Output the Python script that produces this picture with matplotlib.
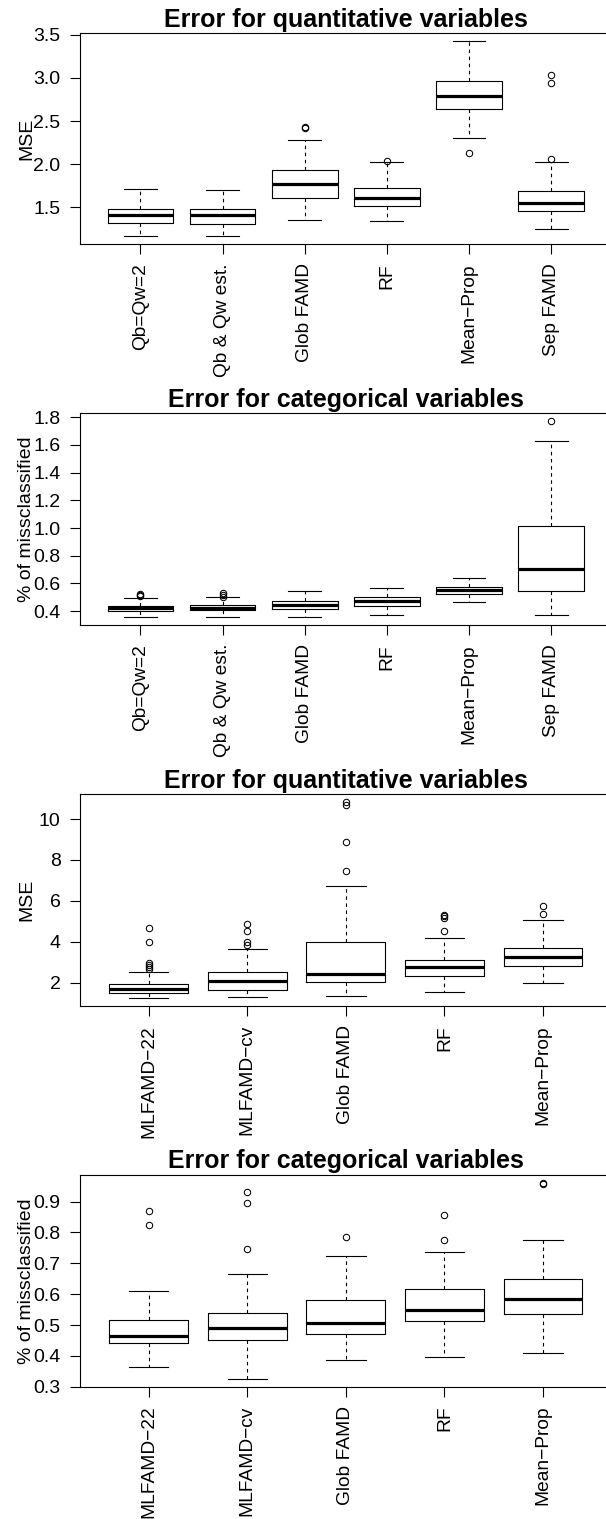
import matplotlib
matplotlib.use("Agg")
import matplotlib.pyplot as plt

plt.rcParams['font.family'] = ['Liberation Sans', 'DejaVu Sans']

# ---------------- data ----------------
cats_top = ["Qb=Qw=2", "Qb & Qw est.", "Glob FAMD", "RF", "Mean\u2212Prop", "Sep FAMD"]
cats_bot = ["MLFAMD\u221222", "MLFAMD\u2212cv", "Glob FAMD", "RF", "Mean\u2212Prop"]

# Panel 1: quantitative (MSE)
p1_whislo = [1.161, 1.161, 1.354, 1.342, 2.305, 1.250]
p1_q1 = [1.319, 1.304, 1.604, 1.515, 2.637, 1.461]
p1_med = [1.411, 1.411, 1.770, 1.612, 2.795, 1.554]
p1_q3 = [1.481, 1.477, 1.928, 1.720, 2.968, 1.693]
p1_whishi = [1.712, 1.700, 2.282, 2.020, 3.427, 2.020]
p1_fliers = [[], [], [2.429, 2.415], [2.040], [2.124], [3.030, 2.941, 2.055]]
p1_ticks = [1.5, 2.0, 2.5, 3.0, 3.5]

# Panel 2: categorical (% misclassified)
p2_whislo = [0.357, 0.357, 0.361, 0.371, 0.467, 0.373]
p2_q1 = [0.405, 0.410, 0.419, 0.436, 0.523, 0.549]
p2_med = [0.422, 0.426, 0.448, 0.470, 0.552, 0.708]
p2_q3 = [0.441, 0.446, 0.472, 0.501, 0.573, 1.013]
p2_whishi = [0.494, 0.499, 0.544, 0.564, 0.641, 1.627]
p2_fliers = [[0.527, 0.518, 0.508], [0.528, 0.515, 0.505], [], [], [], [1.771]]
p2_ticks = [0.4, 0.6, 0.8, 1.0, 1.2, 1.4, 1.6, 1.8]

# Panel 3: quantitative (MSE)
p3_whislo = [1.237, 1.302, 1.335, 1.529, 2.000]
p3_q1 = [1.497, 1.643, 2.016, 2.308, 2.795]
p3_med = [1.708, 2.097, 2.438, 2.779, 3.266]
p3_q3 = [1.919, 2.503, 3.996, 3.103, 3.704]
p3_whishi = [2.503, 3.623, 6.738, 4.158, 5.051]
p3_fliers = [[4.694, 3.964, 2.950, 2.860, 2.740, 2.660],
             [4.888, 4.515, 3.996, 3.834],
             [10.83, 10.70, 8.880, 7.469],
             [5.327, 5.250, 5.181, 4.531],
             [5.732, 5.343]]
p3_ticks = [2, 4, 6, 8, 10]

# Panel 4: categorical (% misclassified)
p4_whislo = [0.365, 0.326, 0.385, 0.395, 0.410]
p4_q1 = [0.441, 0.453, 0.471, 0.513, 0.536]
p4_med = [0.465, 0.490, 0.505, 0.549, 0.585]
p4_q3 = [0.517, 0.540, 0.580, 0.617, 0.650]
p4_whishi = [0.610, 0.665, 0.725, 0.736, 0.776]
p4_fliers = [[0.870, 0.825], [0.930, 0.896, 0.745], [0.785], [0.856, 0.776], [0.961, 0.958]]
p4_ticks = [0.3, 0.4, 0.5, 0.6, 0.7, 0.8, 0.9]

titles = ["Error for quantitative variables", "Error for categorical variables",
          "Error for quantitative variables", "Error for categorical variables"]
ylabels = ["MSE", "% of missclassified", "MSE", "% of missclassified"]

# ---------------- layout (pixels) ----------------
W, H = 606, 1519
DPI = 100
ax_left_px, ax_right_px = 79.7, 612.0
tops_px = [33.3, 413.3, 794.3, 1175.0]
bots_px = [244.3, 625.0, 1006.0, 1386.7]

fig = plt.figure(figsize=(W / DPI, H / DPI), dpi=DPI)
fig.patch.set_facecolor("white")

panels = [
    (cats_top, p1_whislo, p1_q1, p1_med, p1_q3, p1_whishi, p1_fliers, p1_ticks, "{:.1f}"),
    (cats_top, p2_whislo, p2_q1, p2_med, p2_q3, p2_whishi, p2_fliers, p2_ticks, "{:.1f}"),
    (cats_bot, p3_whislo, p3_q1, p3_med, p3_q3, p3_whishi, p3_fliers, p3_ticks, "{:d}"),
    (cats_bot, p4_whislo, p4_q1, p4_med, p4_q3, p4_whishi, p4_fliers, p4_ticks, "{:.1f}"),
]

FS = 14.0
FSX = 13.8
LW = 0.8

for k, (cats, wlo, q1, med, q3, whi, fl, ticks, fmt) in enumerate(panels):
    top, bot = tops_px[k], bots_px[k]
    ax = fig.add_axes([ax_left_px / W, 1 - bot / H,
                       (ax_right_px - ax_left_px) / W, (bot - top) / H])
    n = len(cats)
    stats = []
    for i in range(n):
        stats.append(dict(med=med[i], q1=q1[i], q3=q3[i], whislo=wlo[i],
                          whishi=whi[i], fliers=fl[i], label=cats[i]))
    pos = list(range(1, n + 1))
    ax.bxp(stats, positions=pos, widths=0.8, capwidths=0.4, showfliers=True,
           boxprops=dict(color="black", linewidth=LW),
           medianprops=dict(color="black", linewidth=2.3, solid_capstyle="butt"),
           whiskerprops=dict(color="black", linewidth=LW, linestyle=(0, (3.2, 3.2))),
           capprops=dict(color="black", linewidth=LW),
           flierprops=dict(marker="o", markersize=4.6, markerfacecolor="none",
                           markeredgecolor="black", markeredgewidth=0.75, linestyle="none"))
    # R-like axis ranges (4% extension)
    allv = wlo + whi + [v for f in fl for v in f]
    lo, hi = min(allv), max(allv)
    ext = 0.04 * (hi - lo)
    ax.set_ylim(lo - ext, hi + ext)
    ax.set_xlim(0.5 - 0.04 * n, n + 0.5 + 0.04 * n)

    ax.set_yticks(ticks)
    ax.set_yticklabels([fmt.format(t) for t in ticks], fontsize=FS)
    ax.set_xticks(pos)
    ax.set_xticklabels(cats, rotation=90, va="top", ha="center", fontsize=FSX)
    ax.tick_params(axis="both", length=7, width=LW, color="black")
    ax.tick_params(axis="y", pad=6.8)
    ax.tick_params(axis="x", pad=6.6)
    for sp in ax.spines.values():
        sp.set_linewidth(LW)
        sp.set_color("black")

    ax.set_ylabel(ylabels[k], fontsize=FS)
    ax.yaxis.set_label_coords(-(ax_left_px - 35.3) / (ax_right_px - ax_left_px), 0.5)

    # title
    cx = (ax_left_px + ax_right_px) / 2
    fig.text(cx / W, 1 - (top - 6.6) / H, titles[k], ha="center", va="baseline",
             fontsize=18, fontweight="bold")

fig.savefig("out.png", dpi=DPI, facecolor="white")
